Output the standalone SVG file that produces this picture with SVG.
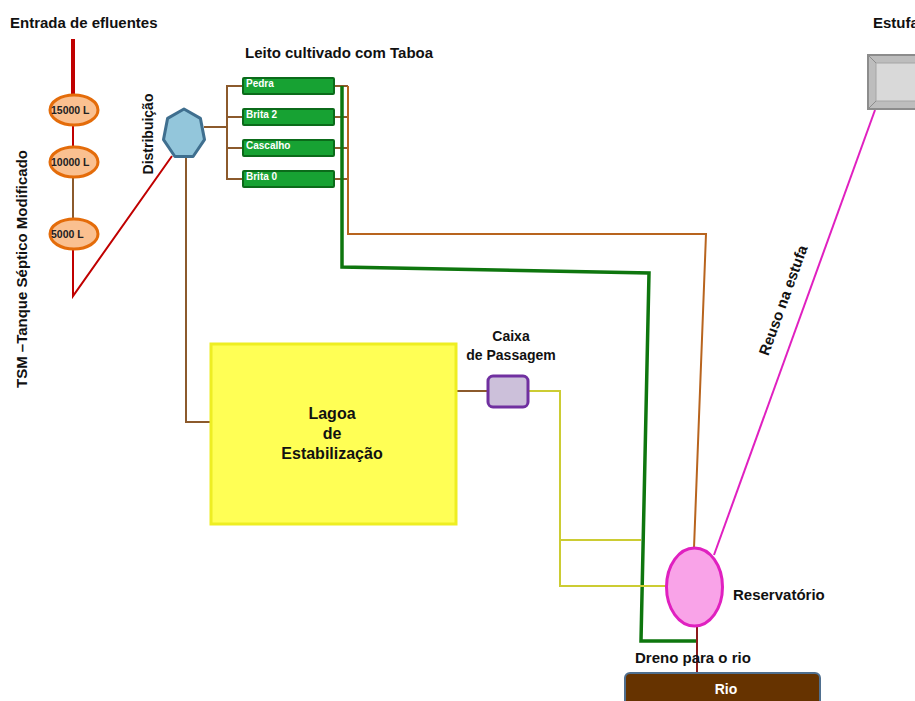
<svg xmlns="http://www.w3.org/2000/svg" width="915" height="701" viewBox="0 0 915 701">
<style>
text{font-family:"Liberation Sans",Arial,sans-serif;font-weight:bold;fill:#111}
.lbl{font-size:15px}
.tank{fill:#fac090;stroke:#e46c0a;stroke-width:3}
.tankt{font-size:10.5px;fill:#222}
.bed{fill:#17a233;stroke:#0b6b1a;stroke-width:2}
.bedt{font-size:10px;fill:#fff}
.brown{fill:none;stroke:#8c5a2c;stroke-width:2}
.orange{fill:none;stroke:#b8641e;stroke-width:2}
.red{fill:none;stroke:#c00000;stroke-width:2}
.green{fill:none;stroke:#0e760e;stroke-width:3.5}
.yel{fill:none;stroke:#cccc33;stroke-width:2}
.pink{fill:none;stroke:#e020c0;stroke-width:2}
</style>
<rect width="915" height="701" fill="#fff"/>
<g id="connectors">
  <line x1="73" y1="39" x2="73" y2="95" stroke="#c00000" stroke-width="4"/>
  <line class="red" x1="73" y1="126" x2="73" y2="146"/>
  <line class="brown" x1="73" y1="178" x2="73" y2="218"/>
  <polyline class="red" points="73,250 73,296 172,156"/>
  <polyline class="brown" points="204,127 227,127"/>
  <polyline class="brown" points="243,86 227,86 227,179 243,179"/>
  <line class="brown" x1="227" y1="117" x2="243" y2="117"/>
  <line class="brown" x1="227" y1="148" x2="243" y2="148"/>
  <line class="brown" x1="334" y1="86" x2="348" y2="86"/>
  <line class="brown" x1="334" y1="117" x2="348" y2="117"/>
  <line class="brown" x1="334" y1="148" x2="348" y2="148"/>
  <line class="brown" x1="334" y1="179" x2="348" y2="179"/>
  <polyline class="orange" points="348,86 348,234 706,234 694,548"/>
  <polyline class="green" points="342,86 342,267 649,273 641,641 697,641"/>
  <polyline class="brown" points="186,157 186,422 211,422"/>
  <line class="brown" x1="457" y1="391" x2="487" y2="391"/>
  <polyline class="yel" points="529,391 560,391 560,586 666,586"/>
  <line class="yel" x1="560" y1="540" x2="641" y2="540"/>
  <line class="pink" x1="714" y1="555" x2="875" y2="110"/>
  <line stroke="#8b1a1a" stroke-width="2" x1="697" y1="627" x2="697" y2="673"/>
</g>
<g id="title-entrada"><text x="10" y="28" font-size="15">Entrada de efluentes</text></g>
<g id="tsm-label"><text transform="translate(27,269) rotate(-90)" text-anchor="middle" font-size="15">TSM –Tanque Séptico Modificado</text></g>
<g id="tank-15000"><ellipse class="tank" cx="74" cy="110" rx="24" ry="15"/><text class="tankt" x="51" y="114">15000 L</text></g>
<g id="tank-10000"><ellipse class="tank" cx="74" cy="162" rx="24" ry="15"/><text class="tankt" x="51" y="166">10000 L</text></g>
<g id="tank-5000"><ellipse class="tank" cx="74" cy="234" rx="24" ry="15"/><text class="tankt" x="51" y="238">5000 L</text></g>
<g id="distribuicao">
  <polygon points="184,109 200.4,118.4 204.5,139.6 193.1,156.5 174.9,156.5 163.5,139.6 167.6,118.4" fill="#93c6db" stroke="#3f6f8f" stroke-width="3" stroke-linejoin="round"/>
  <text transform="translate(153,134) rotate(-90)" text-anchor="middle" font-size="14">Distribuição</text>
</g>
<g id="leito">
  <text class="lbl" x="245" y="58">Leito cultivado com Taboa</text>
</g>
<g id="bed-pedra"><rect class="bed" x="243" y="78" width="91" height="16" rx="1"/><text class="bedt" x="246" y="87">Pedra</text></g>
<g id="bed-brita2"><rect class="bed" x="243" y="109" width="91" height="16" rx="1"/><text class="bedt" x="246" y="118">Brita 2</text></g>
<g id="bed-cascalho"><rect class="bed" x="243" y="140" width="91" height="16" rx="1"/><text class="bedt" x="246" y="149">Cascalho</text></g>
<g id="bed-brita0"><rect class="bed" x="243" y="171" width="91" height="16" rx="1"/><text class="bedt" x="246" y="180">Brita 0</text></g>
<g id="lagoa">
  <rect x="211" y="344" width="245" height="180" fill="#ffff55" stroke="#eeee22" stroke-width="3"/>
  <text x="332" y="419" text-anchor="middle" font-size="16">Lagoa</text>
  <text x="332" y="439" text-anchor="middle" font-size="16">de</text>
  <text x="332" y="459" text-anchor="middle" font-size="16">Estabilização</text>
</g>
<g id="caixa">
  <text x="511" y="341" text-anchor="middle" font-size="14">Caixa</text>
  <text x="511" y="360" text-anchor="middle" font-size="14">de Passagem</text>
  <rect x="488" y="376" width="40" height="31" rx="5" fill="#ccc0da" stroke="#7030a0" stroke-width="3"/>
</g>
<g id="estufa">
  <text class="lbl" x="873" y="28">Estufa</text>
  <rect x="868" y="55" width="60" height="54" fill="#bdbdbd" stroke="#8c8c8c" stroke-width="2"/>
  <rect x="876" y="63" width="52" height="38" fill="#d9d9d9" stroke="#a6a6a6" stroke-width="1"/>
  <line x1="868" y1="55" x2="876" y2="63" stroke="#8c8c8c" stroke-width="1"/>
  <line x1="868" y1="109" x2="876" y2="101" stroke="#8c8c8c" stroke-width="1"/>
</g>
<g id="reuso"><text class="lbl" transform="translate(788,302) rotate(-70)" text-anchor="middle">Reuso na estufa</text></g>
<g id="reservatorio">
  <ellipse cx="694.5" cy="587" rx="28" ry="39" fill="#f9a3e8" stroke="#e020c0" stroke-width="3"/>
  <text class="lbl" x="733" y="600">Reservatório</text>
</g>
<g id="dreno"><text class="lbl" x="635" y="663">Dreno para o rio</text></g>
<g id="rio">
  <rect x="625" y="673" width="195" height="40" rx="5" fill="#663300" stroke="#4f6f8f" stroke-width="2"/>
  <text x="726" y="694" text-anchor="middle" font-size="14" style="fill:#fff">Rio</text>
</g>
</svg>
